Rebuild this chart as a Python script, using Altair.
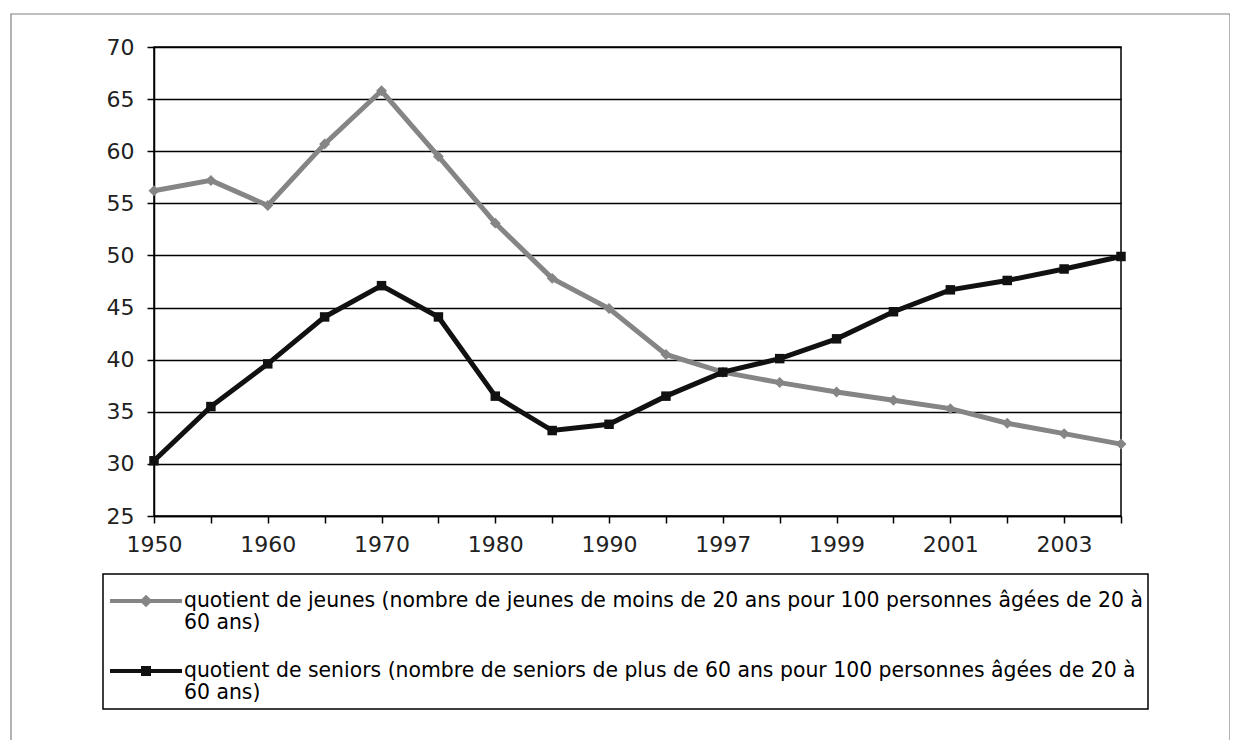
import altair as alt
import pandas as pd

# ---- data ----
years = ["1950", "1955", "1960", "1965", "1970", "1975", "1980", "1985", "1990",
         "1995", "1997", "1998", "1999", "2000", "2001", "2002", "2003", "2004"]
jeunes = [56.2, 57.2, 54.8, 60.7, 65.8, 59.5, 53.1, 47.8, 44.9,
          40.5, 38.8, 37.8, 36.9, 36.1, 35.3, 33.9, 32.9, 31.9]
seniors = [30.3, 35.5, 39.6, 44.1, 47.1, 44.1, 36.5, 33.2, 33.8,
           36.5, 38.8, 40.1, 42.0, 44.6, 46.7, 47.6, 48.7, 49.9]
shown_year_labels = ["1950", "1960", "1970", "1980", "1990", "1997", "1999", "2001", "2003"]
y_ticks = [25, 30, 35, 40, 45, 50, 55, 60, 65, 70]

name_j = "\u00a0quotient de jeunes (nombre de jeunes de moins de 20 ans pour 100 personnes âgées de 20 à\n60 ans)"
name_s = "quotient de seniors (nombre de seniors de plus de 60 ans pour 100 personnes âgées de 20 à\n60 ans)"
series_names = [name_j, name_s]

GRAY = "#858585"
BLACK = "#111111"
FONT = "DejaVu Sans"

rows = []
for y, v in zip(years, jeunes):
    rows.append({"year": y, "value": v, "series": name_j})
for y, v in zip(years, seniors):
    rows.append({"year": y, "value": v, "series": name_s})
df = pd.DataFrame(rows)

label_list = "[" + ",".join("'%s'" % s for s in shown_year_labels) + "]"

x_enc = alt.X(
    "year:O",
    sort=years,
    scale=alt.Scale(type="point", padding=0),
    axis=alt.Axis(
        title=None, labelAngle=0, grid=False,
        labelExpr="indexof(%s, datum.label) >= 0 ? datum.label : ''" % label_list,
        tickSize=7, tickColor="black", tickWidth=1.5,
        domainColor="black", domainWidth=1.5,
        labelFontSize=22, labelPadding=11, labelFont=FONT, labelColor="#222",
    ),
)
y_enc = alt.Y(
    "value:Q",
    scale=alt.Scale(domain=[25, 70], nice=False, zero=False),
    axis=alt.Axis(
        title=None, values=y_ticks, grid=True, gridColor="black", gridWidth=1.3,
        tickSize=7, tickColor="black", tickWidth=1.5,
        domainColor="black", domainWidth=1.5,
        labelFontSize=22, labelPadding=13, labelFont=FONT, labelColor="#222",
    ),
)

base = alt.Chart(df).encode(x=x_enc, y=y_enc)

line_j = base.transform_filter(alt.datum.series == name_j).mark_line(color=GRAY, strokeWidth=5)
pts_j = base.transform_filter(alt.datum.series == name_j).mark_point(
    shape="diamond", filled=True, size=120, color=GRAY, opacity=1)
line_s = base.transform_filter(alt.datum.series == name_s).mark_line(color=BLACK, strokeWidth=5)
pts_s = base.transform_filter(alt.datum.series == name_s).mark_point(
    shape="square", filled=True, size=90, color=BLACK, opacity=1)

# legend symbols: a short line with the series marker, drawn a bit below the symbol centre
path_d = "M-3.6,1H3.6M0,0.65L0.35,1L0,1.35L-0.35,1Z"
path_s = "M-3.6,1H3.6M-0.3,0.7H0.3V1.3H-0.3Z"

leg = alt.Legend(
    orient="none", legendX=-51, legendY=527, title=None,
    strokeColor="black", padding=5, fillColor="white",
    labelFont=FONT, labelFontSize=20.4, labelColor="black", labelLimit=3000,
    labelExpr="split(datum.label, '\\n')", labelBaseline="top",
    symbolSize=400, symbolStrokeWidth=4, symbolOffset=26, labelOffset=26,
    rowPadding=15, symbolOpacity=1,
)

legend_layer = base.transform_filter("false").mark_point(filled=False, strokeWidth=4, opacity=1).encode(
    color=alt.Color("series:N", scale=alt.Scale(domain=series_names, range=[GRAY, BLACK]), legend=leg),
    shape=alt.Shape("series:N", scale=alt.Scale(domain=series_names, range=[path_d, path_s]), legend=leg),
)

frame = alt.Chart(alt.Data(values=[{"f": 1}])).mark_rect(
    filled=False, stroke="#808080", strokeWidth=1.2
).encode(x=alt.value(-143), x2=alt.value(1076), y=alt.value(-33), y2=alt.value(720))

chart = alt.layer(frame, line_j, pts_j, line_s, pts_s, legend_layer).properties(
    width=967, height=469,
    autosize=alt.AutoSizeParams(type="none"),
    padding={"left": 146, "top": 39, "right": 109, "bottom": 224},
).configure_view(stroke="black", strokeWidth=1.5).configure_legend(strokeWidth=1.5)

chart.save("out.html", embed_options={"renderer": "svg", "actions": False})
